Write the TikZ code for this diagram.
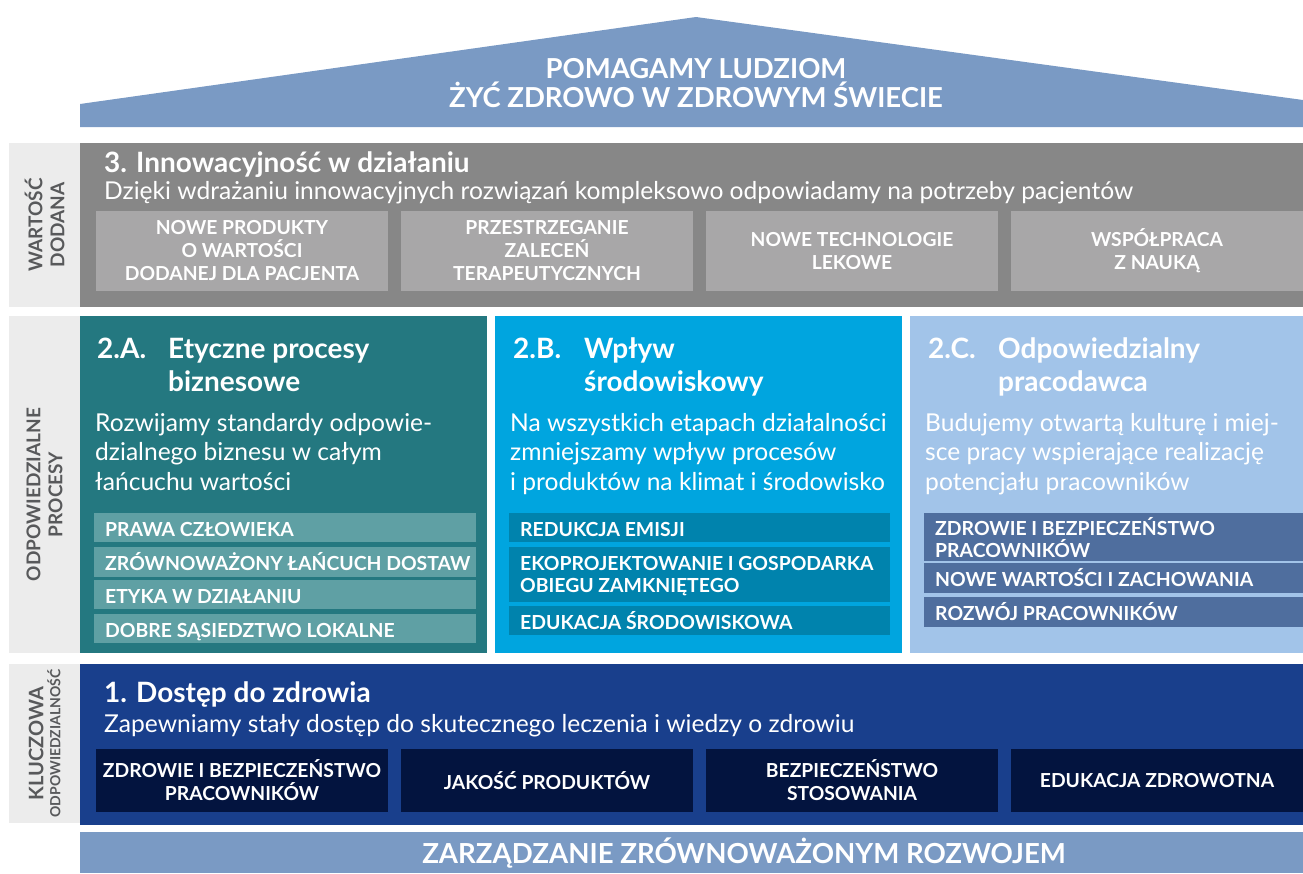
\documentclass[tikz,border=0pt]{standalone}
\usepackage{fontspec}
\setmainfont{Lato}
\usetikzlibrary{positioning}

\definecolor{roofblue}{HTML}{7A9AC4}
\definecolor{sidegray}{HTML}{ECECEC}
\definecolor{sidetext}{HTML}{58595B}
\definecolor{valuegray}{HTML}{878787}
\definecolor{tilegray}{HTML}{A8A7A8}
\definecolor{ethicteal}{HTML}{247880}
\definecolor{ethicitem}{HTML}{5FA0A4}
\definecolor{envcyan}{HTML}{00A5DF}
\definecolor{envitem}{HTML}{0083AD}
\definecolor{staffblue}{HTML}{A2C4E9}
\definecolor{staffitem}{HTML}{4F6E9E}
\definecolor{healthblue}{HTML}{193F8C}
\definecolor{healthtile}{HTML}{03143F}

\tikzset{
  panel/.style={anchor=north west, inner sep=0pt, outer sep=0pt},
  sidelabel/.style={rotate=90, align=center, text=sidetext, font=\fontsize{19}{22}\selectfont\bfseries},
  headline/.style={anchor=base west, inner sep=0pt, text=white, align=left, font=\fontsize{28}{33}\selectfont\bfseries},
  lead/.style={anchor=base west, inner sep=0pt, text=white, align=left, font=\fontsize{24.6}{29.2}\selectfont},
  tile/.style={panel, minimum width=292, text=white, align=center, font=\fontsize{19.3}{23}\selectfont\bfseries},
  itemtext/.style={anchor=base west, inner sep=0pt, text=white, align=left, font=\fontsize{19.4}{22}\selectfont\bfseries},
}

\begin{document}
\begin{tikzpicture}[x=1pt,y=-1pt]
\useasboundingbox (0,0) rectangle (1303,873);

% roof
\fill[roofblue] (80,127) -- (80,104) -- (696,17) -- (1303,100) -- (1303,127) -- cycle;
\node[anchor=base, inner sep=0pt, text=white, align=center, font=\fontsize{27.5}{29}\selectfont\bfseries] (motto) at (696,107) {POMAGAMY LUDZIOM\\ŻYĆ ZDROWO W ZDROWYM ŚWIECIE};

% 3. value added
\node[panel, fill=sidegray, minimum width=71, minimum height=164] (valueside) at (9,143) {};
\node[sidelabel] (valuelabel) at (valueside.center) {WARTOŚĆ\\DODANA};
\node[panel, fill=valuegray, minimum width=1223, minimum height=164] (value) at (80,143) {};
\node[headline] (valuetitle) at ([shift={(24,29)}]value.north west) {3. Innowacyjność w działaniu};
\node[lead] (valuelead) at ([shift={(24,56)}]value.north west) {Dzięki wdrażaniu innowacyjnych rozwiązań kompleksowo odpowiadamy na potrzeby pacjentów};
\foreach \i/\txt in {0/{NOWE PRODUKTY\\O WARTOŚCI\\DODANEJ DLA PACJENTA}, 1/{PRZESTRZEGANIE\\ZALECEŃ\\TERAPEUTYCZNYCH}, 2/{NOWE TECHNOLOGIE\\LEKOWE}, 3/{WSPÓŁPRACA\\Z NAUKĄ}}
  \node[tile, fill=tilegray, minimum height=80] (valuetile\i) at (96+305*\i,211) {\txt};

% 2. responsible processes
\node[panel, fill=sidegray, minimum width=71, minimum height=337] (procside) at (9,316) {};
\node[sidelabel] (proclabel) at ([yshift=-10pt]procside.center) {ODPOWIEDZIALNE\\PROCESY};

% 2.A
\node[panel, fill=ethicteal, minimum width=407, minimum height=337] (ethic) at (80,316) {};
\node[headline] (ethicnum) at ([shift={(17,42)}]ethic.north west) {2.A.};
\node[headline] (ethictitle) at ([shift={(88,75)}]ethic.north west) {Etyczne procesy\\biznesowe};
\node[lead] (ethiclead) at ([shift={(15,174)}]ethic.north west) {Rozwijamy standardy odpowie-\\dzialnego biznesu w całym\\łańcuchu wartości};
\foreach \top/\h/\ty/\txt in {513/29/23/PRAWA CZŁOWIEKA, 547/30/23/ZRÓWNOWAŻONY ŁAŃCUCH DOSTAW, 580/29/23/ETYKA W DZIAŁANIU, 614/29/23/DOBRE SĄSIEDZTWO LOKALNE} {
  \node[panel, fill=ethicitem, minimum width=382, minimum height=\h] (ethicitem\top) at (94,\top) {};
  \node[itemtext] (ethictext\top) at ([shift={(11,\ty)}]ethicitem\top.north west) {\txt};
}

% 2.B
\node[panel, fill=envcyan, minimum width=407, minimum height=337] (env) at (495,316) {};
\node[headline] (envnum) at ([shift={(18,42)}]env.north west) {2.B.};
\node[headline] (envtitle) at ([shift={(89,75)}]env.north west) {Wpływ\\środowiskowy};
\node[lead] (envlead) at ([shift={(15,174)}]env.north west) {Na wszystkich etapach działalności\\zmniejszamy wpływ procesów\\i produktów na klimat i środowisko};
\foreach \top/\h/\ty/\txt in {513/29/23/REDUKCJA EMISJI, 547/55/45/{EKOPROJEKTOWANIE I GOSPODARKA\\OBIEGU ZAMKNIĘTEGO}, 606/29/23/EDUKACJA ŚRODOWISKOWA} {
  \node[panel, fill=envitem, minimum width=381, minimum height=\h] (envitem\top) at (509,\top) {};
  \node[itemtext] (envtext\top) at ([shift={(11,\ty)}]envitem\top.north west) {\txt};
}

% 2.C
\node[panel, fill=staffblue, minimum width=393, minimum height=337] (staff) at (910,316) {};
\node[headline] (staffnum) at ([shift={(18,42)}]staff.north west) {2.C.};
\node[headline] (stafftitle) at ([shift={(88,75)}]staff.north west) {Odpowiedzialny\\pracodawca};
\node[lead] (stafflead) at ([shift={(15,174)}]staff.north west) {Budujemy otwartą kulturę i miej-\\sce pracy wspierające realizację\\potencjału pracowników};
\foreach \top/\h/\ty/\txt in {513/48/44/{ZDROWIE I BEZPIECZEŃSTWO\\PRACOWNIKÓW}, 563/30/23/NOWE WARTOŚCI I ZACHOWANIA, 597/30/23/ROZWÓJ PRACOWNIKÓW} {
  \node[panel, fill=staffitem, minimum width=379, minimum height=\h] (staffitem\top) at (924,\top) {};
  \node[itemtext] (stafftext\top) at ([shift={(11,\ty)}]staffitem\top.north west) {\txt};
}

% 1. key responsibility
\node[panel, fill=sidegray, minimum width=71, minimum height=159] (healthside) at (9,664) {};
\node[sidelabel] (healthlabel) at ([yshift=0pt]healthside.center) {{\fontsize{20}{20}\selectfont KLUCZOWA}\\[-5pt]{\fontsize{14}{16}\selectfont ODPOWIEDZIALNOŚĆ}};
\node[panel, fill=healthblue, minimum width=1223, minimum height=161] (health) at (80,664) {};
\node[headline] (healthtitle) at ([shift={(24,38)}]health.north west) {1. Dostęp do zdrowia};
\node[lead] (healthlead) at ([shift={(24,68)}]health.north west) {Zapewniamy stały dostęp do skutecznego leczenia i wiedzy o zdrowiu};
\foreach \i/\txt in {0/{ZDROWIE I BEZPIECZEŃSTWO\\PRACOWNIKÓW}, 1/{JAKOŚĆ PRODUKTÓW}, 2/{BEZPIECZEŃSTWO\\STOSOWANIA}, 3/{EDUKACJA ZDROWOTNA}}
  \node[tile, fill=healthtile, minimum height=63] (healthtile\i) at (96+305*\i,749) {\txt};

% footer
\node[panel, fill=roofblue, minimum width=1223, minimum height=41] (footer) at (80,832) {};
\node[anchor=base, inner sep=0pt, text=white, font=\fontsize{27.6}{30}\selectfont\bfseries] (footertext) at (744,863) {ZARZĄDZANIE ZRÓWNOWAŻONYM ROZWOJEM};
\end{tikzpicture}
\end{document}
